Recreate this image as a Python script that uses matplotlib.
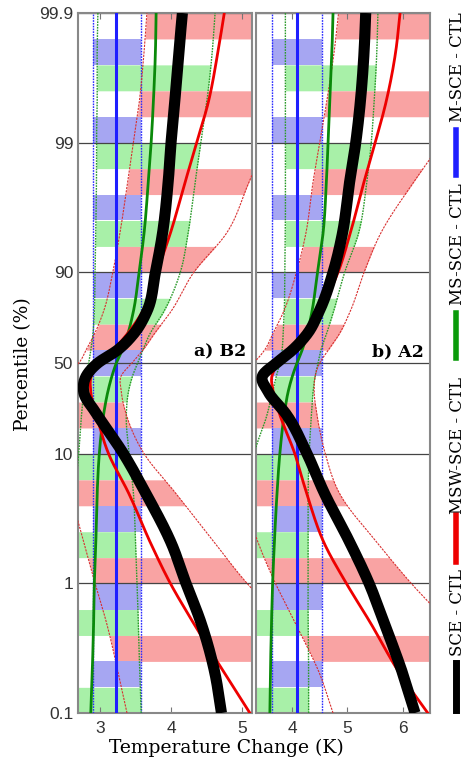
import numpy as np
import matplotlib
matplotlib.use("Agg")
import matplotlib.pyplot as plt
from matplotlib.lines import Line2D

pct = [0.1, 0.2, 0.5, 1, 2, 5, 10, 20, 30, 40, 50, 60, 70, 80, 90, 95, 98, 99, 99.5, 99.8, 99.9]
pct_ends = [0.1, 99.9]

# a) B2
b2_sce = [4.71, 4.62, 4.42, 4.21, 4.01, 3.64, 3.33, 2.96, 2.77, 2.81, 2.97, 3.24, 3.47, 3.66, 3.78, 3.88, 3.96, 4.00, 4.05, 4.11, 4.16]
b2_msw = [5.11, 4.76, 4.31, 3.99, 3.72, 3.40, 3.12, 2.95, 2.87, 2.88, 2.99, 3.18, 3.38, 3.60, 3.80, 3.99, 4.20, 4.36, 4.52, 4.66, 4.75]
b2_msw_lo = [3.38, 3.26, 3.09, 2.93, 2.78, 2.58, 2.45, 2.38, 2.38, 2.48, 2.70, 2.80, 2.92, 3.05, 3.18, 3.28, 3.39, 3.47, 3.55, 3.62, 3.66]
b2_msw_hi = [6.60, 6.20, 5.60, 5.07, 4.63, 4.06, 3.62, 3.37, 3.30, 3.30, 3.45, 3.60, 3.76, 4.00, 4.32, 4.78, 5.10, 5.35, 5.80, 6.30, 6.70]
b2_ms = [2.87, 2.89, 2.91, 2.92, 2.94, 2.96, 2.99, 3.05, 3.11, 3.17, 3.23, 3.31, 3.39, 3.47, 3.55, 3.62, 3.68, 3.72, 3.75, 3.78, 3.79]
b2_ms_lo = [2.45, 2.48, 2.52, 2.55, 2.60, 2.65, 2.70, 2.74, 2.77, 2.80, 2.84, 2.87, 2.90, 2.92, 2.93, 2.94, 2.95, 2.95, 2.96, 2.96, 2.97]
b2_ms_hi = [3.58, 3.56, 3.54, 3.52, 3.50, 3.47, 3.41, 3.37, 3.40, 3.46, 3.53, 3.60, 3.70, 3.90, 4.13, 4.24, 4.34, 4.42, 4.50, 4.58, 4.62]
b2_m = [3.23, 3.23]
b2_m_lo = [2.90, 2.90]
b2_m_hi = [3.58, 3.58]

# b) A2
a2_sce = [6.22, 6.00, 5.66, 5.39, 5.06, 4.58, 4.27, 3.90, 3.57, 3.47, 3.72, 4.00, 4.27, 4.49, 4.74, 4.91, 5.04, 5.15, 5.23, 5.30, 5.33]
a2_msw = [6.45, 5.95, 5.41, 4.98, 4.59, 4.26, 4.05, 3.78, 3.66, 3.64, 3.76, 4.00, 4.25, 4.50, 4.83, 5.05, 5.30, 5.50, 5.69, 5.87, 5.95]
a2_msw_lo = [4.74, 4.50, 4.05, 3.70, 3.40, 3.10, 3.00, 2.90, 2.90, 3.00, 3.30, 3.50, 3.65, 3.85, 4.08, 4.25, 4.38, 4.50, 4.62, 4.76, 4.84]
a2_msw_hi = [8.00, 7.50, 6.80, 6.15, 5.56, 4.85, 4.60, 4.45, 4.40, 4.42, 4.50, 4.65, 4.85, 5.05, 5.30, 5.60, 6.20, 6.70, 7.20, 7.80, 8.20]
a2_ms = [3.60, 3.61, 3.63, 3.65, 3.68, 3.73, 3.78, 3.86, 3.93, 4.01, 4.09, 4.18, 4.27, 4.36, 4.46, 4.56, 4.62, 4.65, 4.68, 4.72, 4.74]
a2_ms_lo = [3.00, 3.05, 3.10, 3.15, 3.20, 3.25, 3.32, 3.55, 3.65, 3.72, 3.78, 3.82, 3.84, 3.86, 3.87, 3.88, 3.88, 3.88, 3.88, 3.88, 3.88]
a2_ms_hi = [4.30, 4.30, 4.29, 4.29, 4.29, 4.29, 4.31, 4.35, 4.38, 4.42, 4.47, 4.52, 4.62, 4.75, 4.95, 5.20, 5.35, 5.43, 5.48, 5.53, 5.55]
a2_m = [4.09, 4.09]
a2_m_lo = [3.64, 3.64]
a2_m_hi = [4.54, 4.54]

y_ticks = [0.1, 1, 10, 50, 90, 99, 99.9]
y_ticklabels = ["0.1", "1", "10", "50", "90", "99", "99.9"]

L50 = np.log10(50.0)


def fwd(p):
    # log scale for the lower half, mirrored log scale for the upper half
    p = np.clip(np.asarray(p, dtype=float), 1e-6, 100 - 1e-6)
    return np.where(p <= 50, np.log10(p), 2 * L50 - np.log10(100 - p))


def inv(t):
    t = np.asarray(t, dtype=float)
    return np.where(t <= L50, 10 ** np.minimum(t, L50),
                    100 - 10 ** (2 * L50 - np.maximum(t, L50)))


def curve(vals, tt):
    """Smooth (cubic Hermite) line through the read values, evaluated at scale positions tt."""
    x = np.asarray(vals, dtype=float)
    if len(x) == 2:
        return np.interp(tt, fwd(pct_ends), x)
    t = fwd(pct)
    m = np.gradient(x, t)
    i = np.clip(np.searchsorted(t, tt) - 1, 0, len(t) - 2)
    h = t[i + 1] - t[i]
    s = (tt - t[i]) / h
    return ((2 * s**3 - 3 * s**2 + 1) * x[i] + (s**3 - 2 * s**2 + s) * h * m[i]
            + (-2 * s**3 + 3 * s**2) * x[i + 1] + (s**3 - s**2) * h * m[i + 1])


T_FINE = np.linspace(float(fwd(0.1)), float(fwd(99.9)), 600)
P_FINE = inv(T_FINE)

RED_F = "#f9a3a3"
BLUE_F = "#a6a6f2"
GREEN_F = "#a8f0a8"


def draw_stripes(ax, bands):
    t_top = float(fwd(99.9))
    t_bot = float(fwd(0.1))
    k = 0
    while t_top - 0.2 * k > t_bot + 1e-6:
        t1 = t_top - 0.2 * k
        t0 = max(t_top - 0.2 * (k + 1), t_bot)
        lo, hi, col = bands[k % 3]
        tt = np.linspace(t0, t1, 20)
        ax.fill_betweenx(inv(tt), curve(lo, tt), curve(hi, tt), color=col, lw=0, zorder=1)
        k += 1


def line(ax, vals, **kw):
    ax.plot(curve(vals, T_FINE), P_FINE, **kw)


def draw_panel(ax, sce, msw, msw_lo, msw_hi, ms, ms_lo, ms_hi, m, m_lo, m_hi):
    ax.set_yscale("function", functions=(fwd, inv))
    draw_stripes(ax, [(msw_lo, msw_hi, RED_F), (m_lo, m_hi, BLUE_F), (ms_lo, ms_hi, GREEN_F)])
    # confidence bounds
    for v in (m_lo, m_hi):
        line(ax, v, color="#2a2aff", ls=(0, (1.2, 0.8)), lw=1.0, zorder=3)
    for v in (ms_lo, ms_hi):
        line(ax, v, color="#2a9a2a", ls=(0, (1.2, 0.8)), lw=1.0, zorder=3)
    for v in (msw_lo, msw_hi):
        line(ax, v, color="#d83030", ls=(0, (2.0, 1.0)), lw=0.8, zorder=3)
    # means
    line(ax, m, color="#1f1fff", lw=2.2, zorder=4)
    line(ax, ms, color="#0a8a0a", lw=2.0, zorder=4)
    line(ax, msw, color="#ee0000", lw=2.0, zorder=5)
    line(ax, sce, color="black", lw=8, zorder=6, solid_capstyle="butt")

    ax.set_ylim(0.1, 99.9)
    ax.set_yticks(y_ticks)
    ax.set_axisbelow("line")
    ax.yaxis.grid(True, color="#444444", lw=0.9)
    ax.tick_params(axis="y", length=0)
    ax.tick_params(axis="x", direction="in", top=True, length=4, color="#777777",
                   labelsize=12.5, labelcolor="#333333", pad=6)
    for s in ax.spines.values():
        s.set_color("#888888")
        s.set_linewidth(1.5)


plt.rcParams["font.family"] = ["Liberation Sans", "DejaVu Sans"]
fig = plt.figure(figsize=(4.67, 7.63), dpi=100)
ax_a = fig.add_axes([78 / 467, 1 - 713 / 763, 174 / 467, 700 / 763])
ax_b = fig.add_axes([256 / 467, 1 - 713 / 763, 174 / 467, 700 / 763])

draw_panel(ax_a, b2_sce, b2_msw, b2_msw_lo, b2_msw_hi, b2_ms, b2_ms_lo, b2_ms_hi, b2_m, b2_m_lo, b2_m_hi)
draw_panel(ax_b, a2_sce, a2_msw, a2_msw_lo, a2_msw_hi, a2_ms, a2_ms_lo, a2_ms_hi, a2_m, a2_m_lo, a2_m_hi)

ax_a.set_xlim(2.69, 5.14)
ax_a.set_xticks([3, 4, 5])
ax_b.set_xlim(3.35, 6.49)
ax_b.set_xticks([4, 5, 6])

ax_a.set_yticklabels(y_ticklabels, fontsize=12.5, color="#333333")
ax_b.set_yticklabels([])

serif = "DejaVu Serif"
ax_a.text(0.965, 0.51, "a) B2", transform=ax_a.transAxes, ha="right", va="baseline",
          fontsize=12.5, fontweight="bold", family=serif, zorder=7)
ax_b.text(0.965, 0.51, "b) A2", transform=ax_b.transAxes, ha="right", va="baseline",
          fontsize=12.5, fontweight="bold", family=serif, zorder=7)

fig.text(226 / 467, 1 - 748 / 763, "Temperature Change (K)", ha="center", va="center",
         fontsize=13.5, family=serif)
fig.text(23 / 467, 1 - 364 / 763, "Percentile (%)", ha="center", va="center",
         rotation=90, fontsize=13.5, family=serif)

# vertical legend on the right
leg_x = 456 / 467
legend_items = [
    ("black", 5, 663, 710, "SCE - CTL", 613),
    ("#ee0000", 4, 515, 562, "MSW-SCE - CTL", 445),
    ("#0a9a0a", 4, 313, 358, "MS-SCE - CTL", 244),
    ("#1f1fff", 4, 130, 175, "M-SCE - CTL", 67),
]
for col, lw, y0, y1, label, yc in legend_items:
    fig.add_artist(Line2D([leg_x, leg_x], [1 - y0 / 763, 1 - y1 / 763], color=col, lw=lw,
                          transform=fig.transFigure))
    fig.text(458 / 467, 1 - yc / 763, label, rotation=90, ha="center", va="center",
             fontsize=12, family=serif)

fig.savefig("out.png", dpi=100)
